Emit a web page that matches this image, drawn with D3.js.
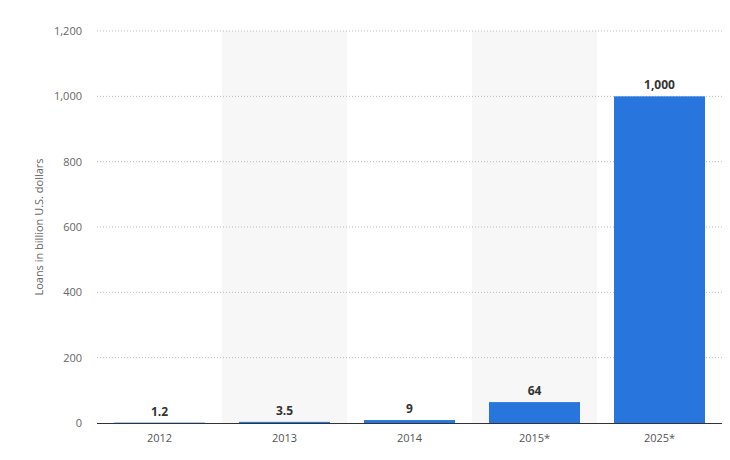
<!DOCTYPE html>
<html><head><meta charset="utf-8">
<script src="https://cdn.jsdelivr.net/npm/d3@7"></script>
<style>body{margin:0;background:#fff}text{font-family:"Open Sans",Roboto,sans-serif}</style>
</head><body><svg width="730" height="460"></svg>
<script>
const categories = ["2012", "2013", "2014", "2015*", "2025*"];
const values = [1.2, 3.5, 9, 64, 1000];
const labels = ["1.2", "3.5", "9", "64", "1,000"];
const yTicks = [0, 200, 400, 600, 800, 1000, 1200];

const svg = d3.select("svg");
const margin = {left: 97, right: 8, top: 31, bottom: 37};
const x = d3.scaleBand().domain(categories).range([margin.left, 730 - margin.right]).paddingInner(0).paddingOuter(0);
const y = d3.scaleLinear().domain([0, 1200]).range([460 - margin.bottom, margin.top]);

// alternate shaded bands
svg.append("g").selectAll("rect")
    .data(categories.filter((d, i) => i % 2 === 1))
    .join("rect")
    .attr("x", d => x(d)).attr("width", x.bandwidth())
    .attr("y", y(1200)).attr("height", y(0) - y(1200))
    .attr("fill", "#f7f7f7");

// grid
svg.append("g").selectAll("line")
    .data(yTicks.filter(d => d > 0))
    .join("line")
    .attr("x1", margin.left).attr("x2", 730 - margin.right)
    .attr("y1", d => y(d)).attr("y2", d => y(d))
    .attr("stroke", "#bbb").attr("stroke-dasharray", "1,2");

// y tick labels
svg.append("g").selectAll("text")
    .data(yTicks)
    .join("text")
    .attr("x", 82).attr("y", d => y(d)).attr("dy", "0.35em")
    .attr("text-anchor", "end").attr("font-size", 11).attr("fill", "#666")
    .text(d => d3.format(",")(d));

svg.append("text")
    .attr("transform", "translate(43," + (y(600)) + ") rotate(-90)")
    .attr("text-anchor", "middle").attr("font-size", 11).attr("fill", "#666")
    .text("Loans in billion U.S. dollars");

const pad = 17;
svg.append("g").selectAll("rect")
    .data(values)
    .join("rect")
    .attr("x", (d, i) => x(categories[i]) + pad)
    .attr("width", x.bandwidth() - 2 * pad)
    .attr("y", d => y(d))
    .attr("height", d => y(0) - y(d))
    .attr("fill", "#2876dd");

svg.append("g").selectAll("text")
    .data(values)
    .join("text")
    .attr("x", (d, i) => x(categories[i]) + x.bandwidth() / 2)
    .attr("y", d => y(d) - 7)
    .attr("text-anchor", "middle").attr("font-size", 12).attr("font-weight", "bold").attr("fill", "#333")
    .text((d, i) => labels[i]);

// x axis
svg.append("line")
    .attr("x1", margin.left).attr("x2", 730 - margin.right)
    .attr("y1", y(0) + 0.5).attr("y2", y(0) + 0.5)
    .attr("stroke", "#333");
svg.append("g").selectAll("text")
    .data(categories)
    .join("text")
    .attr("x", d => x(d) + x.bandwidth() / 2).attr("y", y(0) + 19)
    .attr("text-anchor", "middle").attr("font-size", 11).attr("fill", "#555")
    .text(d => d);
</script></body></html>
